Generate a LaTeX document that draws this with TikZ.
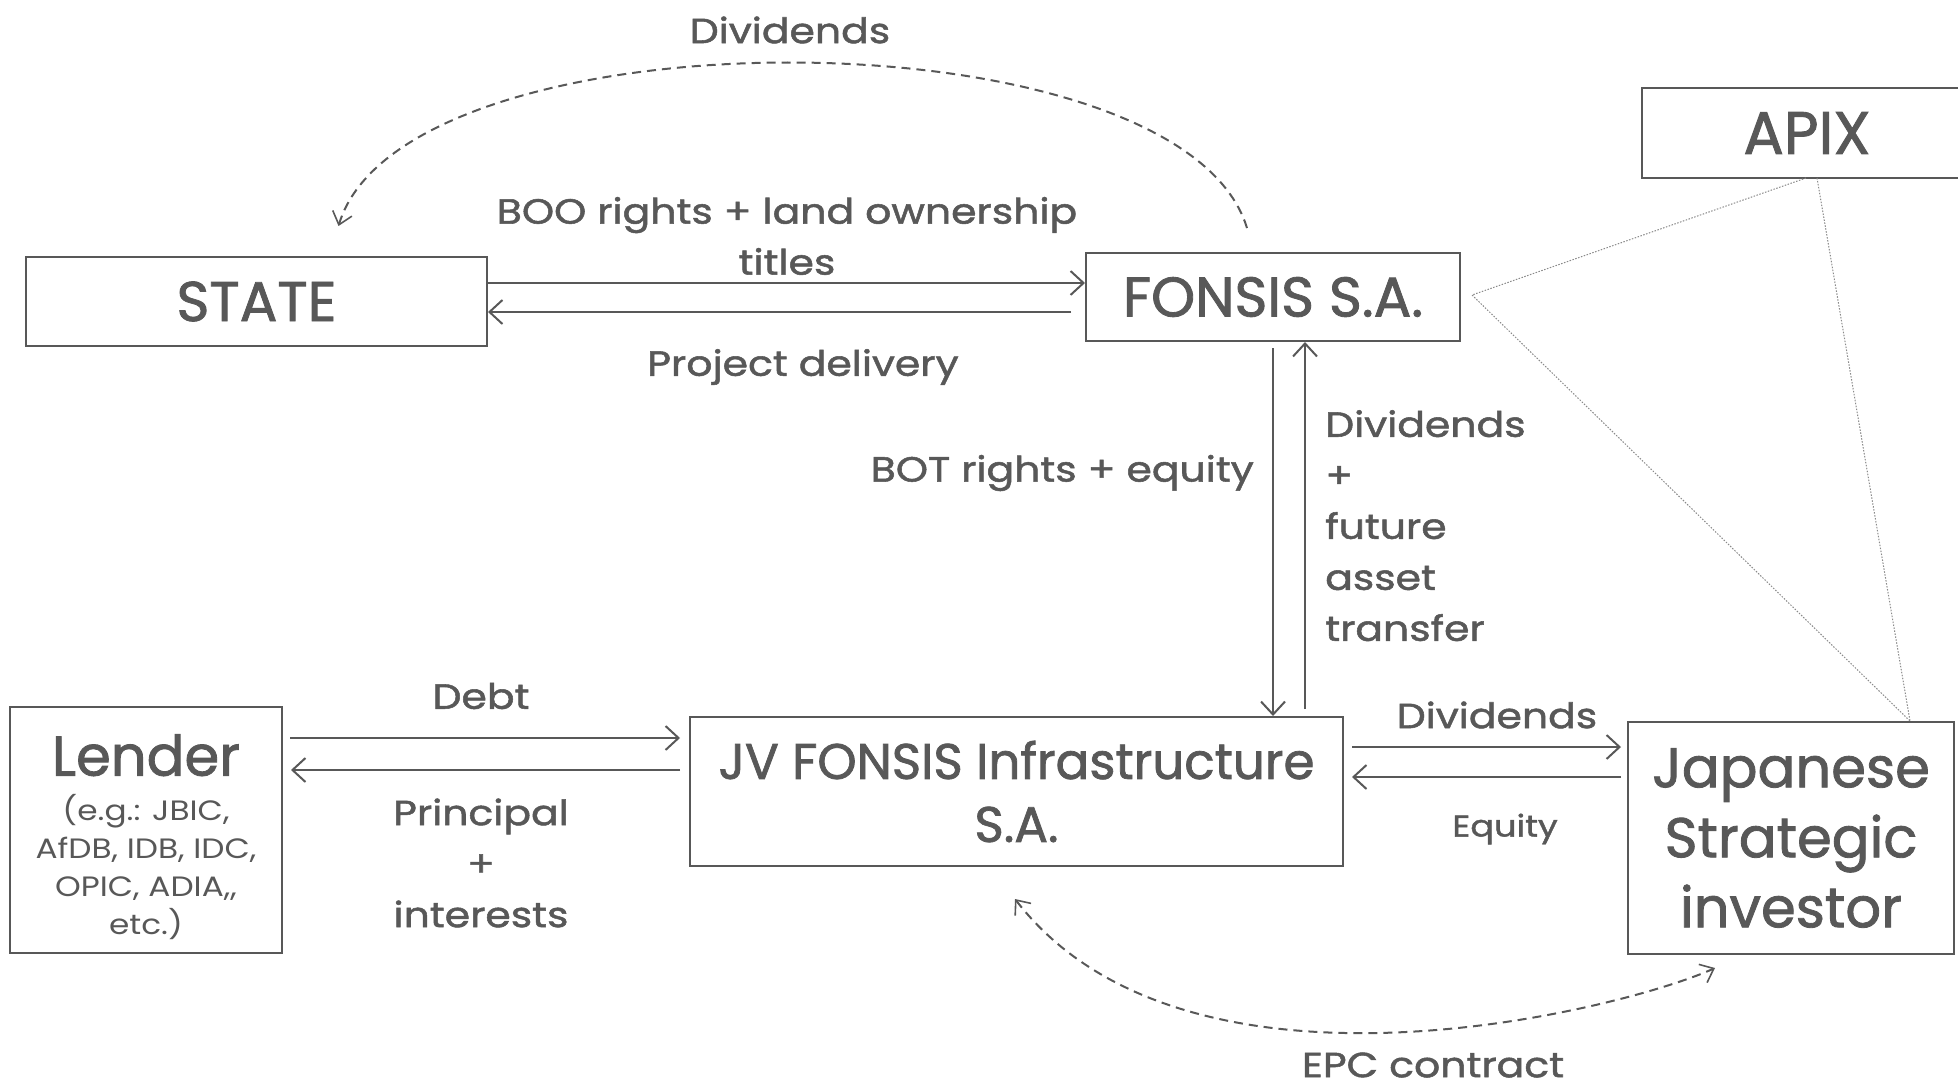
\documentclass[tikz,border=0pt]{standalone}
\usepackage{fontspec}
\setmainfont{Poppins}
\newfontfamily\boxf{Poppins}[FakeBold=1.5]
\newfontfamily\lblf{Poppins}[FakeStretch=1.17,FakeBold=1.5]
\newfontfamily\subf{Poppins}[FakeStretch=1.17]
\usetikzlibrary{arrows.meta,calc}
\definecolor{ink}{HTML}{585858}
\definecolor{faint}{HTML}{8A8A8A}
\begin{document}
\begin{tikzpicture}[x=1pt,y=-1pt,
  box/.style={draw=ink,line width=2pt,text=ink,inner sep=0pt,align=center},
  big/.style={font=\boxf\fontsize{56}{68}\selectfont},
  lbl/.style={text=ink,inner sep=0pt,align=center,font=\lblf\fontsize{35}{51}\selectfont},
  arr/.style={draw=ink,line width=2pt,-{Straight Barb[length=13pt,width=24pt,line width=2pt]}},
  dsh/.style={draw=ink,line width=2pt,dash pattern=on 9pt off 6pt,-{Straight Barb[length=12pt,width=20pt,line width=1.6pt]}},
  dot/.style={draw=faint,line width=1pt,dash pattern=on 1.5pt off 1.5pt}]
\useasboundingbox (0,0) rectangle (1958,1091);
\coordinate (rb) at (1958,0);
% boxes
\node[box,big,minimum width=461pt,minimum height=89pt] (state) at (256.5,301.5) {STATE};
\node[box,big,minimum width=374pt,minimum height=88pt] (fonsis) at (1273,297) {FONSIS S.A.};
\node[box,draw=none,big,minimum width=328pt,minimum height=88pt] (apix) at (1807,133) {\fontsize{60}{68}\selectfont APIX};
\draw[draw=ink,line width=2pt] (apix.north west -| rb) -- (apix.north west) -- (apix.south west) -- (apix.south west -| rb);
\node[box,minimum width=272pt,minimum height=246pt] (lender) at (146,830) {};
\node[text=ink,inner sep=0pt,align=center,font=\subf\fontsize{28}{38}\selectfont] (lendert) at ([yshift=-7pt]lender.center)
  {\boxf\fontsize{56}{64}\selectfont Lender\\[7pt]\subf\fontsize{28}{38}\selectfont (e.g.: JBIC,\\AfDB, IDB, IDC,\\OPIC, ADIA,,\\etc.)};
\node[box,font=\boxf\fontsize{50}{63}\selectfont,minimum width=653pt,minimum height=149pt] (jv) at (1016.5,791.5) {JV FONSIS Infrastructure\\S.A.};
\node[box,font=\boxf\fontsize{56}{70}\selectfont,minimum width=326pt,minimum height=232pt] (japan) at (1791,838) {Japanese\\Strategic\\investor};
% helper coordinates
\coordinate (y1) at (0,283);
\coordinate (y2) at (0,312);
\coordinate (y3) at (0,738);
\coordinate (y4) at (0,770);
\coordinate (y5) at (0,747);
\coordinate (y6) at (0,777);
\coordinate (x2) at (1305,0);
% STATE <-> FONSIS
\draw[arr] (state.east |- y1) -- (fonsis.west |- y1);
\draw[arr,shorten <=14pt] (fonsis.west |- y2) -- (state.east |- y2);
% FONSIS <-> JV
\draw[arr,shorten <=6pt] (fonsis.south) -- (fonsis.south |- jv.north);
\draw[arr,shorten <=7pt] (x2 |- jv.north) -- (x2 |- fonsis.south);
% Lender <-> JV
\draw[arr,shorten <=7pt,shorten >=9pt] (lender.east |- y3) -- (jv.west |- y3);
\draw[arr,shorten <=9pt,shorten >=8pt] (jv.west |- y4) -- (lender.east |- y4);
% JV <-> Japanese
\draw[arr,shorten <=8pt,shorten >=6pt] (jv.east |- y5) -- (japan.west |- y5);
\draw[arr,shorten <=6pt,shorten >=8pt] (japan.west |- y6) -- (jv.east |- y6);
% dividends curve
\coordinate (dvs) at ([xshift=-26pt,yshift=24pt]fonsis.north);
\coordinate (dve) at ([xshift=82pt,yshift=30pt]state.north);
\draw[dsh] (dvs) .. controls (1180,8) and (404,8) .. (dve);
% EPC curve
\coordinate (epa) at ([xshift=-1.5pt,yshift=-32pt]jv.south);
\coordinate (epb) at ([xshift=-76pt,yshift=-13pt]japan.south);
\draw[dsh,{Straight Barb[length=12pt,width=20pt,line width=1.6pt]}-{Straight Barb[length=12pt,width=20pt,line width=1.6pt]}] (epa) .. controls (1187,1122) and (1627,1008) .. (epb);
% APIX triangle
\coordinate (apx) at ([xshift=11pt,yshift=2pt]fonsis.east);
\draw[dot] ([xshift=-1pt]apix.south) -- (apx) -- ([xshift=119pt]japan.north);
\draw[dot] ([xshift=10pt]apix.south) -- ([xshift=119pt]japan.north);
% labels
\node[lbl] (l1) at (790,30) {Dividends};
\node[lbl] (l2) at (787,236) {BOO rights + land ownership\\titles};
\node[lbl] (l3) at (803,367) {Project delivery};
\node[lbl,anchor=east] (l4) at (1254,473) {BOT rights + equity};
\node[lbl,anchor=north west,align=left] (l5) at (1325,410) {Dividends\\+\\future\\asset\\transfer};
\node[lbl] (l6) at (481,696) {Debt};
\node[lbl] (l7) at (481,863) {Principal\\+\\interests};
\node[lbl] (l8) at (1497,715) {Dividends};
\node[lbl,font=\lblf\fontsize{30}{36}\selectfont] (l9) at (1505,829) {Equity};
\node[lbl] (l10) at (1433,1065) {EPC contract};
\end{tikzpicture}
\end{document}
